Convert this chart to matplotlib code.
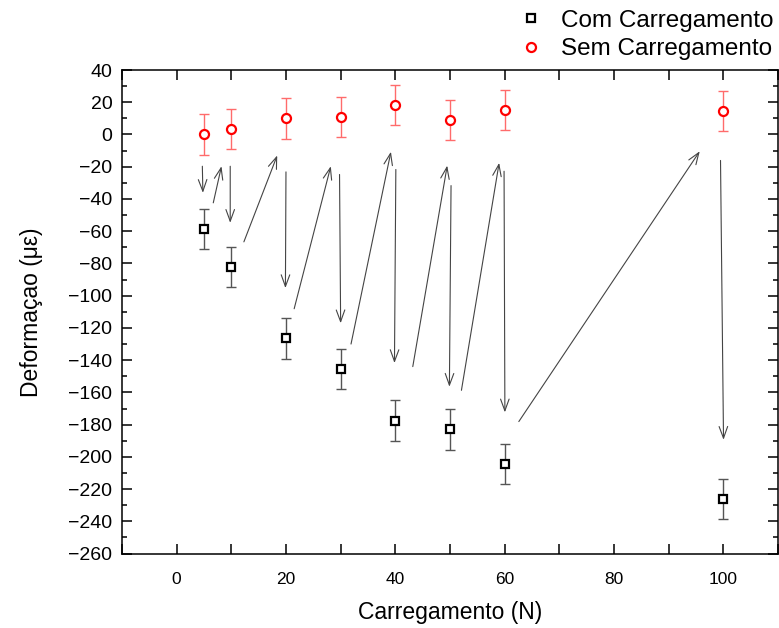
import matplotlib
matplotlib.use("Agg")
import matplotlib.pyplot as plt
from matplotlib.ticker import MultipleLocator

plt.rcParams['font.family'] = ['Liberation Sans', 'DejaVu Sans']

# carregamento aplicado (N)
carga = [5, 10, 20, 30, 40, 50, 60, 100]

# deformacao medida (micro-strain)
com_carga = [-58.5, -82, -126.5, -145.5, -177.5, -183, -204.5, -226]
sem_carga = [0, 3.5, 10, 11, 18.5, 9, 15, 14.5]
erro_com = [12.5] * len(carga)
erro_sem = [12.5] * len(carga)

# setas do ciclo carregar/descarregar: (x0, y0, x1, y1)
setas = [
    (4.7, -19.7, 4.8, -36.2),
    (6.7, -42.4, 8.2, -19.7),
    (9.8, -19.7, 9.8, -54.8),
    (12.3, -66.6, 18.4, -13.0),
    (20.0, -23.2, 19.9, -95.3),
    (21.5, -108.1, 28.2, -19.7),
    (29.8, -24.8, 30.0, -117.1),
    (31.9, -130.0, 39.2, -10.7),
    (40.1, -21.7, 39.85, -141.8),
    (43.2, -144.0, 49.5, -19.3),
    (50.2, -31.7, 49.9, -156.5),
    (52.1, -158.7, 59.0, -17.6),
    (59.9, -22.8, 60.05, -172.4),
    (62.6, -178.1, 95.7, -10.4),
    (99.5, -16.1, 100.05, -189.4),
]

fig = plt.figure(figsize=(7.79, 6.28), dpi=100)
ax = fig.add_axes([0.1566, 0.1185, 0.842, 0.770])

ax.errorbar(carga, com_carga, yerr=erro_com, fmt='none', ecolor='#555555',
            elinewidth=1, capsize=3.6, capthick=1, zorder=2)
ax.errorbar(carga, sem_carga, yerr=erro_sem, fmt='none', ecolor='#ff6b6b',
            elinewidth=1, capsize=3.6, capthick=1, zorder=2)
ax.plot(carga, com_carga, ls='none', marker='s', ms=5.2, mew=1.6,
        mec='black', mfc='white', label='Com Carregamento', zorder=3)
ax.plot(carga, sem_carga, ls='none', marker='o', ms=6.5, mew=1.6,
        mec='red', mfc='white', label='Sem Carregamento', zorder=3)

for x0, y0, x1, y1 in setas:
    ax.annotate('', xy=(x1, y1), xytext=(x0, y0),
                arrowprops=dict(arrowstyle='->,head_length=0.6,head_width=0.22',
                                color='#444444', lw=0.8, shrinkA=0, shrinkB=0,
                                mutation_scale=14))

ax.set_xlim(-10, 110)
ax.set_ylim(-260, 40)
ax.xaxis.set_major_locator(MultipleLocator(20))
ax.xaxis.set_minor_locator(MultipleLocator(10))
ax.yaxis.set_major_locator(MultipleLocator(20))
ax.yaxis.set_minor_locator(MultipleLocator(10))
ax.tick_params(which='both', direction='in', top=True, right=True, width=1.1)
ax.tick_params(which='major', length=7)
ax.tick_params(axis='y', which='minor', length=3.5)
ax.tick_params(axis='x', which='minor', length=7)
ax.tick_params(axis='y', labelsize=14, pad=7)
ax.tick_params(axis='x', labelsize=12.5, pad=13)
for s in ax.spines.values():
    s.set_linewidth(1.1)

ax.set_xlabel('Carregamento (N)', fontsize=16.5, labelpad=10)
ax.set_ylabel('Deformaçao (με)', fontsize=16.5, labelpad=18)

fig.legend(loc='upper right', bbox_to_anchor=(1.012, 1.008), frameon=False,
           fontsize=17.5, handletextpad=0.75, labelspacing=0.28, borderaxespad=0.2,
           handlelength=1.0)

fig.savefig('out.png', dpi=100)
